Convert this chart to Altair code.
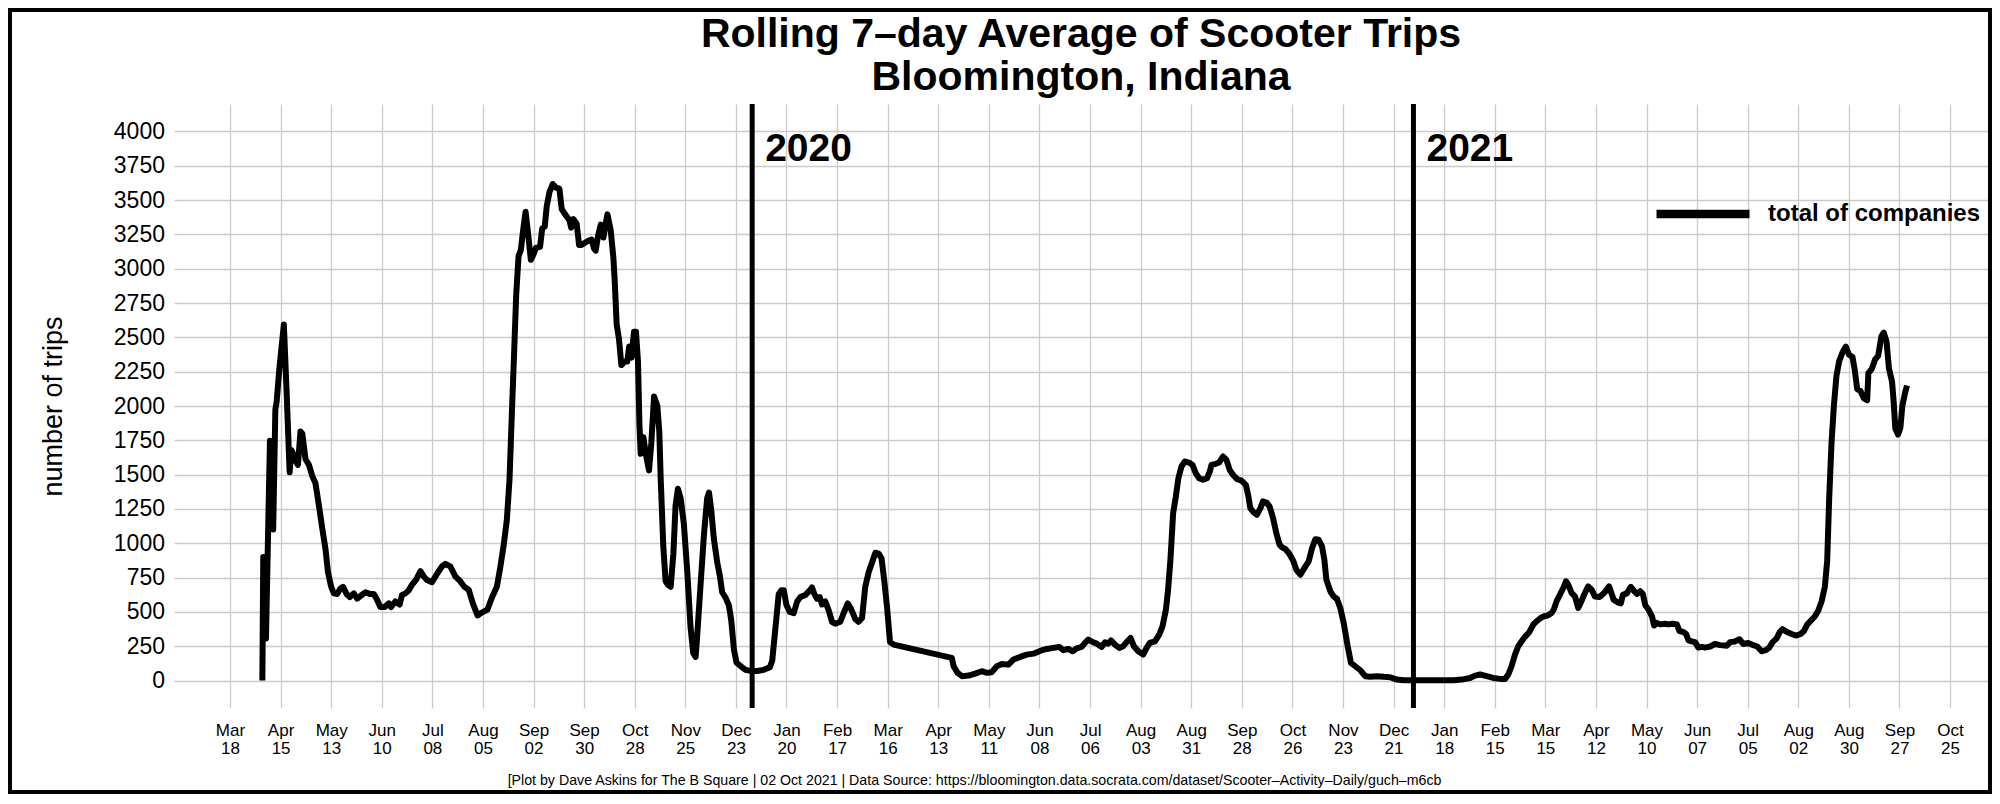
import altair as alt
import pandas as pd

FONT = "Liberation Sans"

title_lines = ["Rolling 7–day Average of Scooter Trips", "Bloomington, Indiana"]
y_title = "number of trips"
legend_label = "total of companies"
caption = ("[Plot by Dave Askins for The B Square | 02 Oct 2021 | Data Source: "
           "https://bloomington.data.socrata.com/dataset/Scooter–Activity–Daily/guch–m6cb")

# days counted from 2019-03-18 (first x tick)
origin = "2019-03-18"
days = [
    17.9, 18.4, 19.2, 19.9, 22.1, 22.8, 23.9, 25.1, 25.8, 27.3, 29.8, 31.3, 33.0, 33.9, 35.0, 36.3,
    37.6, 39.0, 40.0, 41.8, 43.7, 45.5, 47.3, 49.2, 51.0, 52.9, 54.2, 56.0, 57.5, 59.3, 61.1, 62.6,
    64.5, 66.3, 68.5, 70.4, 72.2, 75.0, 77.7, 79.6, 81.4, 83.2, 85.5, 87.9, 89.1, 91.5, 93.9, 95.2,
    97.1, 98.9, 100.7, 103.1, 105.4, 107.2, 109.0, 111.8, 114.6, 117.3, 119.2, 121.9, 124.7, 127.4,
    129.7, 132.1, 134.4, 137.0, 139.4, 142.5, 144.9, 147.7, 149.5, 151.4, 153.2, 154.7, 156.0, 157.3,
    158.4, 159.7, 161.0, 162.1, 163.6, 165.0, 166.5, 168.0, 169.4, 171.6, 172.8, 174.2, 175.3, 176.8,
    178.6, 180.5, 182.3, 183.6, 185.5, 187.9, 188.8, 190.1, 191.9, 193.2,
    194.5, 197.8, 200.1, 201.5, 202.4, 203.7, 205.2, 206.7, 208.0, 208.9, 210.7, 212.2, 212.9, 214.0,
    215.3, 216.6, 218.5, 219.9, 220.9, 222.2, 223.6, 224.7, 225.8, 226.6, 227.3, 228.8, 230.1, 231.9,
    233.2, 234.7, 236.5, 237.6, 238.4, 239.8, 241.1, 242.4, 243.9, 245.4, 246.6, 247.9, 249.4, 251.2,
    253.1, 254.9, 256.4, 257.7, 258.6, 260.5, 262.3, 264.1, 265.1, 266.3, 267.8, 269.7, 271.1, 272.4,
    274.3, 276.1, 277.4, 278.9, 280.3, 282.6, 285.3, 288.0, 291.8, 295.4, 298.8, 300.1, 301.9, 303.7,
    305.2, 306.5, 308.0, 309.8, 312.0, 313.9, 315.7, 318.5, 320.9, 322.1, 323.4, 324.9, 326.4, 327.7,
    329.5, 331.4, 333.2, 335.0, 337.8, 339.6, 341.9, 343.7, 346.1, 347.9, 349.8, 351.6, 353.5, 355.3,
    357.2, 359.0, 360.6, 362.0, 363.6, 365.3, 367.3,
    399.5, 400.5, 402.7, 405.1, 408.8, 412.4, 416.1, 418.9, 421.6, 424.4, 427.2, 430.8, 433.6, 437.3,
    441.0, 444.7, 448.3, 452.0, 455.7, 459.0, 461.2, 464.0, 466.4, 468.6, 471.4, 473.2, 475.0, 477.4,
    479.7, 482.4, 484.3, 486.1, 487.6, 489.8, 492.2, 494.4, 496.6, 498.4, 500.3, 502.7, 505.4, 507.3,
    509.1, 511.9, 514.3, 516.1, 518.0, 519.2, 520.5, 522.0, 523.5, 524.9, 526.6, 528.5, 530.8, 532.7,
    534.5, 536.4, 538.6, 540.8, 542.3, 543.2, 545.6, 547.4, 549.6, 551.5, 553.3, 555.1, 557.4, 559.8,
    562.2, 563.5, 564.7, 566.6, 568.4, 570.3, 571.7, 573.6, 575.4, 577.3, 579.1, 580.9,
    582.3, 584.1, 586.0, 588.4, 590.2, 592.4, 595.2, 597.0, 598.9, 600.7, 602.5, 604.4, 605.7, 606.8,
    609.0, 610.8, 612.7, 614.5, 616.4, 618.6, 620.4, 622.8, 625.6, 628.3, 631.1, 634.8, 638.5, 642.1,
    645.8, 649.5, 655.0, 662.4, 669.8, 677.1, 681.7, 686.3, 689.1, 691.9, 695.5, 699.2, 702.9, 705.7,
    707.5, 709.3, 711.2, 713.0, 714.9, 716.7, 719.1, 721.3, 723.2, 725.4, 727.2, 729.1, 731.5, 732.8,
    734.2, 736.1, 737.9, 739.4, 740.7, 742.5, 744.4, 746.2, 747.5, 749.9, 751.7, 753.6, 755.4, 758.2,
    760.9, 763.3,
    765.8, 768.0, 769.8, 770.9, 773.1, 775.3, 777.2, 778.7, 780.5, 782.0, 783.3, 785.1, 787.0, 788.2,
    789.7, 791.5, 794.3, 796.1, 798.5, 800.8, 802.2, 804.1, 805.9, 807.2, 809.0, 810.9, 812.7, 814.6,
    816.4, 819.2, 821.9, 824.7, 828.4, 830.2, 833.0, 835.4, 837.6, 840.3, 843.1, 845.3, 847.7, 850.1,
    851.9, 853.8, 856.0, 857.8, 859.3, 861.5, 864.3, 866.7, 869.3, 871.1, 873.0, 875.3, 877.2, 879.0,
    880.9, 882.7, 884.0, 885.1, 886.4, 887.7, 889.1, 890.6, 892.5, 894.3, 896.1, 898.0, 899.3, 900.6,
    902.4, 904.3, 906.1, 906.8, 908.7, 910.5, 912.2, 914.0, 915.3, 916.8, 918.2, 919.9, 920.8, 921.7,
    923.2, 924.5, 925.6, 927.1, 928.2,
]
trips = [
    0, 900, 885, 307, 1746, 1733, 1100, 1975, 2030, 2270, 2594, 2110, 1518, 1680, 1652, 1600,
    1571, 1814, 1800, 1612, 1571, 1491, 1437, 1276, 1114, 953, 791, 683, 635, 630, 670, 683,
    630, 608, 635, 597, 616, 643, 630, 630, 589, 535, 535, 562, 535, 576, 554, 624,
    635, 657, 697, 737, 797, 759, 732, 716, 778, 831, 850, 831, 759, 724,
    683, 662, 562, 474, 495, 517, 603, 683, 818, 980, 1168, 1464, 1948, 2406,
    2809, 3092, 3138, 3267, 3415, 3253, 3065, 3105, 3154, 3159, 3294, 3307, 3455, 3558,
    3617, 3590, 3584, 3434, 3396, 3353, 3299, 3361, 3326, 3173,
    3173, 3200, 3213, 3146, 3132, 3240, 3321, 3227, 3334, 3396, 3280, 3079, 2917, 2594,
    2487, 2298, 2325, 2325, 2433, 2352, 2540, 2540, 2325, 1868, 1652, 1773, 1652, 1531,
    1733, 2069, 2002, 1814, 1464, 980, 724, 697, 683, 926, 1276, 1397, 1329, 1141,
    791, 387, 199, 172, 334, 710, 1060, 1329, 1370, 1249, 1033, 858, 764, 643,
    603, 549, 441, 226, 132, 105, 78, 70, 70, 78, 97, 145, 387, 630,
    657, 657, 549, 500, 490, 576, 608, 624, 657, 678, 630, 597, 608, 554,
    576, 509, 428, 414, 428, 490, 562, 522, 447, 428, 455, 683, 791, 858,
    931, 925, 890, 740, 541, 280, 262,
    165, 104, 56, 32, 36, 51, 68, 56, 61, 104, 121, 116, 153, 172,
    189, 196, 216, 230, 238, 245, 221, 230, 213, 235, 245, 274, 298, 281,
    269, 245, 279, 269, 293, 262, 238, 250, 286, 310, 250, 213, 189, 238,
    274, 286, 335, 395, 516, 662, 880, 1220, 1341, 1474, 1559, 1596, 1588, 1571,
    1511, 1474, 1462, 1474, 1523, 1571, 1579, 1588, 1632, 1608, 1535, 1499, 1467, 1457,
    1426, 1353, 1256, 1225, 1208, 1256, 1305, 1297, 1268, 1183, 1074, 990,
    970, 958, 929, 875, 807, 771, 832, 868, 965, 1030, 1026, 977, 880, 735,
    650, 613, 594, 529, 419, 250, 129, 104, 75, 32, 27, 32, 27, 24,
    7, 2, 2, 2, 2, 2, 7, 19, 36, 44, 32, 19, 12, 12,
    44, 104, 189, 250, 286, 318, 352, 407, 432, 456, 468, 473, 492, 521,
    577, 626, 674, 723, 698, 638, 613, 529, 565, 638, 686, 662, 613, 609,
    643, 686,
    589, 570, 562, 624, 635, 683, 651, 630, 651, 630, 549, 517, 468, 401,
    420, 409, 414, 409, 414, 409, 361, 355, 339, 293, 285, 280, 240, 245,
    240, 248, 266, 258, 253, 280, 285, 301, 266, 274, 258, 248, 213, 221,
    240, 280, 307, 355, 374, 355, 339, 328, 339, 361, 409, 441, 468, 509,
    576, 683, 872, 1329, 1733, 2002, 2217, 2325, 2392, 2433, 2373, 2357, 2258, 2123,
    2110, 2056, 2042, 2239, 2271, 2339, 2365, 2508, 2535, 2473, 2271, 2177, 2029, 1835,
    1792, 1841, 2002, 2096, 2150,
]

tick_dates = [
    "2019-03-18", "2019-04-15", "2019-05-13", "2019-06-10", "2019-07-08", "2019-08-05",
    "2019-09-02", "2019-09-30", "2019-10-28", "2019-11-25", "2019-12-23",
    "2020-01-20", "2020-02-17", "2020-03-16", "2020-04-13", "2020-05-11", "2020-06-08",
    "2020-07-06", "2020-08-03", "2020-08-31", "2020-09-28", "2020-10-26", "2020-11-23",
    "2020-12-21",
    "2021-01-18", "2021-02-15", "2021-03-15", "2021-04-12", "2021-05-10", "2021-06-07",
    "2021-07-05", "2021-08-02", "2021-08-30", "2021-09-27", "2021-10-25",
]
y_ticks = [0, 250, 500, 750, 1000, 1250, 1500, 1750, 2000, 2250, 2500, 2750,
           3000, 3250, 3500, 3750, 4000]
year_starts = ["2020-01-01", "2021-01-01"]
year_labels = ["2020", "2021"]
x_domain = ["2019-02-15", "2021-11-15"]
y_domain = [-200, 4200]


def dt(s):
    y, m, d = (int(p) for p in s.split("-"))
    return alt.DateTime(year=y, month=m, date=d)


df = pd.DataFrame({
    "date": pd.Timestamp(origin) + pd.to_timedelta(days, unit="D"),
    "trips": trips,
    "series": legend_label,
})
ydf = pd.DataFrame({"date": pd.to_datetime(year_starts), "label": year_labels})

W, H = 1814, 604

x_scale = alt.Scale(domain=[dt(x_domain[0]), dt(x_domain[1])])
y_scale = alt.Scale(domain=y_domain, nice=False, zero=False)

x_axis = alt.Axis(
    values=[dt(s) for s in tick_dates],
    labelExpr="[timeFormat(datum.value, '%b'), timeFormat(datum.value, '%d')]",
    grid=True, ticks=False, domain=False,
    labelFontSize=17, labelLineHeight=18, labelPadding=14, labelColor="black",
    labelOverlap=False, labelFlush=False, labelBound=False,
    title=caption, titleFontSize=14.2, titleFontWeight="normal", titleColor="black",
    titleX=800, titleY=72, titleAlign="center", titleBaseline="middle", titleAngle=0,
)
y_axis = alt.Axis(
    values=y_ticks, format="d",
    grid=True, ticks=False, domain=False,
    labelFontSize=23, labelPadding=9.5, labelColor="black",
    title=y_title, titleFontSize=27, titleFontWeight="normal", titleColor="black",
    titleX=-120.5, titleY=302, titleAngle=270, titleAlign="center", titleBaseline="middle",
)

line = alt.Chart(df).mark_line(strokeWidth=6, strokeJoin="round").encode(
    x=alt.X("date:T", scale=x_scale, axis=x_axis),
    y=alt.Y("trips:Q", scale=y_scale, axis=y_axis),
    color=alt.Color(
        "series:N",
        scale=alt.Scale(range=["#000000"]),
        legend=alt.Legend(
            title=None, orient="none", legendX=1478, legendY=59, padding=0,
            symbolType="stroke", symbolSize=8649, symbolStrokeWidth=8.5,
            labelFontSize=24, labelFontWeight="bold", labelColor="black",
            labelFont=FONT, labelOffset=14, labelLimit=0,
        ),
    ),
)

rules = alt.Chart(ydf).mark_rule(strokeWidth=5, color="black").encode(x="date:T")

ytext = alt.Chart(ydf).mark_text(
    align="left", baseline="alphabetic", dx=13, y=56.7,
    fontSize=39, fontWeight="bold", font=FONT, color="black",
).encode(x="date:T", text="label:N")

frame = alt.Chart(alt.Data(values=[{"k": 1}])).mark_rect(
    fill="transparent", stroke="black", strokeWidth=4
).encode(
    x=alt.value(-164), x2=alt.value(W + 2), y=alt.value(-94), y2=alt.value(H + 84)
)

chart = alt.layer(line, rules, ytext, frame).properties(
    width=W, height=H,
    padding={"left": 166, "top": 96, "right": 4, "bottom": 86},
    autosize=alt.AutoSizeParams(type="none"),
    background="white",
    title=alt.TitleParams(
        text=title_lines, fontSize=41, font=FONT, fontWeight="bold", color="black",
        anchor="middle", frame="group", baseline="bottom", lineHeight=43, offset=-131.7,
    ),
).configure_view(stroke="transparent").configure_axis(
    gridColor="#cbcbcb", gridWidth=1.3, labelFont=FONT, titleFont=FONT,
)

chart.save("out.html", embed_options={"renderer": "svg", "actions": False})
